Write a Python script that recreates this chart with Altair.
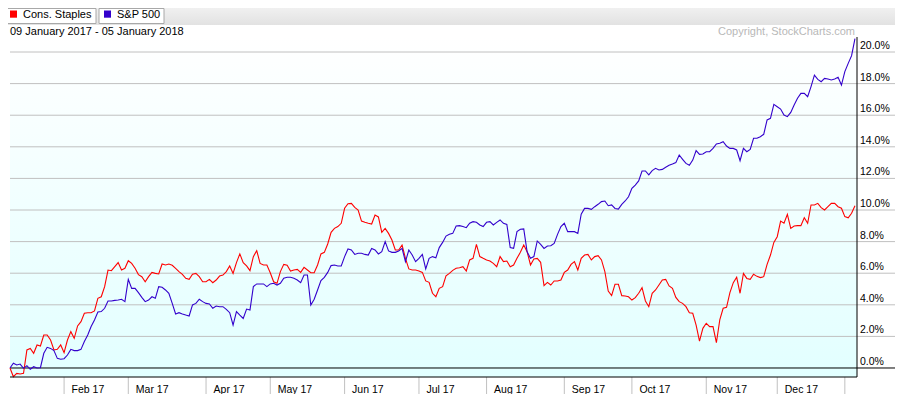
import altair as alt
import pandas as pd

# ---------------- data ----------------
series_names = ["Cons. Staples", "S&P 500"]
series_colors = ["#ff0000", "#3300cc"]
date_range_text = "09 January 2017 - 05 January 2018"
copyright_text = "Copyright, StockCharts.com"

cons_staples = [
    0.00, -0.55, -0.34, -0.38, -0.34, 1.14, 1.24, 0.93, 1.46, 1.39, 2.09, 2.09, 1.77, 1.14, 1.18, 1.46,
    0.97, 1.77, 2.30, 1.88, 2.66, 2.93, 3.46, 3.50, 3.50, 3.61, 4.41, 4.51, 5.15, 6.20, 6.16, 6.41,
    6.67, 6.20, 6.31, 6.79, 6.62, 6.31, 5.91, 5.78, 5.46, 5.78, 6.05, 5.99, 5.95, 6.58, 6.52, 6.58,
    6.50, 6.31, 6.10, 5.93, 5.68, 5.61, 5.93, 5.99, 5.78, 5.46, 5.46, 5.61, 5.40, 5.57, 5.82,
    5.88, 6.10, 6.46, 5.99, 6.67, 7.22, 6.67, 6.46, 6.16, 7.05, 7.43, 6.62, 6.52, 6.52, 6.03, 5.46,
    5.36, 6.10, 6.56, 6.50, 6.14, 6.20, 6.24, 6.05, 6.37, 6.20, 6.03, 6.03, 6.52, 7.22, 7.32, 7.85,
    8.59, 8.84, 8.95, 9.16, 10.11, 10.40, 10.42, 10.17, 10.00, 9.30, 9.22, 9.16, 9.11, 9.68, 9.56, 8.59,
    8.84, 8.52, 8.10, 7.47, 7.47, 7.78, 6.94, 6.27, 6.20, 6.20, 6.14, 6.05, 5.51, 5.42, 4.73,
    4.51, 5.04, 5.15, 5.84, 5.99, 6.18, 6.31, 6.35, 6.41, 6.14, 6.84, 6.94, 7.83, 7.05, 6.94, 6.84,
    6.77, 6.62, 6.41, 7.05, 6.73, 6.77, 6.41, 6.52, 6.94, 7.32, 7.78, 7.36, 6.52, 6.90, 6.94,
    6.69, 5.21, 5.42, 5.25, 5.51, 5.51, 5.57, 6.05, 6.20, 6.56, 6.73, 6.20, 6.94, 7.15, 7.19, 6.84,
    7.05, 7.11, 6.84, 6.10, 4.87, 4.58, 5.30, 5.30, 4.58, 4.56, 4.51, 4.30, 4.45, 4.73, 5.08, 4.24,
    3.88, 4.73, 4.94, 5.25, 5.57, 5.61, 5.19, 5.04, 4.47, 4.20, 4.09, 3.88, 3.50, 3.46, 2.72, 1.70,
    2.51, 2.83, 2.62, 2.62, 1.60, 3.04, 3.78, 3.84, 4.77, 5.40, 5.74, 4.73, 5.99, 5.67, 5.61,
    5.93, 5.80, 5.72, 5.78, 6.56, 7.15, 7.95, 8.31, 9.30, 9.16, 9.73, 8.84, 8.99, 9.01, 9.01, 9.51,
    9.16, 10.32, 10.32, 10.42, 10.15, 10.00, 10.21, 10.42, 10.42, 10.21, 10.11, 9.58, 9.51, 9.79, 10.27,
]

sp500 = [
    0.00, 0.30, 0.19, 0.25, -0.02, 0.15, -0.08, 0.08, 0.00, 0.02, 0.93, 1.31, 1.24, 1.10, 0.61, 0.55,
    0.59, 0.82, 1.18, 1.10, 1.10, 1.18, 1.67, 2.09, 2.62, 3.04, 3.54, 3.57, 3.78, 4.24, 4.24, 4.28,
    4.30, 4.35, 4.20, 5.61, 5.04, 5.04, 4.77, 4.47, 4.20, 4.30, 4.51, 4.41, 5.15, 5.11, 4.94, 4.73,
    4.09, 3.42, 3.50, 3.42, 3.35, 3.29, 3.99, 4.09, 4.35, 4.20, 4.09, 4.05, 3.78, 3.92, 3.88,
    3.88, 3.71, 3.50, 2.72, 3.57, 3.35, 3.14, 3.73, 3.67, 5.15, 5.32, 5.32, 5.32, 5.15, 5.32, 5.36,
    5.25, 5.36, 5.68, 5.74, 5.74, 5.68, 5.57, 5.40, 5.89, 5.89, 3.99, 4.35, 4.94, 5.53, 5.74, 6.05,
    6.48, 6.52, 6.46, 6.46, 7.05, 7.53, 7.47, 7.19, 7.26, 7.26, 7.19, 7.15, 7.57, 7.47, 7.22, 7.36,
    8.00, 7.41, 7.32, 7.32, 7.41, 7.57, 6.73, 7.47, 7.15, 6.73, 6.94, 7.19, 6.27, 6.94, 7.05,
    6.98, 7.62, 7.95, 8.35, 8.46, 8.52, 8.99, 9.01, 8.95, 8.88, 9.16, 9.26, 9.22, 9.05, 8.95, 9.22,
    9.26, 9.05, 9.22, 9.37, 9.16, 9.09, 7.62, 7.57, 8.63, 8.78, 8.80, 7.36, 6.94, 7.05, 8.04,
    7.83, 7.57, 7.72, 7.74, 7.89, 8.46, 8.95, 9.16, 8.63, 8.63, 8.63, 8.52, 9.73, 10.10, 10.10, 10.04,
    10.21, 10.36, 10.53, 10.57, 10.27, 10.32, 10.10, 10.06, 10.36, 10.57, 10.84, 11.37, 11.58, 11.84, 12.47, 12.47,
    12.22, 12.49, 12.64, 12.53, 12.57, 12.70, 12.83, 12.91, 13.00, 13.48, 13.21, 12.95, 12.83, 13.16, 13.76, 13.52,
    13.54, 13.69, 13.69, 13.90, 14.18, 14.22, 14.32, 14.05, 13.90, 13.90, 13.80, 13.12, 13.90, 13.69, 13.84,
    14.54, 14.54, 14.64, 14.79, 15.70, 15.80, 16.69, 16.54, 16.39, 16.01, 15.91, 16.18, 16.65, 17.07, 17.38, 17.38,
    17.17, 17.81, 18.54, 18.27, 18.12, 18.33, 18.29, 18.23, 18.29, 18.40, 17.91, 18.76, 19.28, 19.77, 20.85,
]

# trading-day index of the first session of each month, and its label
month_start_idx = [16, 35, 58, 77, 99, 121, 141, 164, 184, 206, 227, 247]
month_labels = ["Feb 17", "Mar 17", "Apr 17", "May 17", "Jun 17", "Jul 17",
                "Aug 17", "Sep 17", "Oct 17", "Nov 17", "Dec 17", ""]

y_ticks = [0, 2, 4, 6, 8, 10, 12, 14, 16, 18, 20]
y_tick_labels = ["0.0%", "2.0%", "4.0%", "6.0%", "8.0%", "10.0%",
                 "12.0%", "14.0%", "16.0%", "18.0%", "20.0%"]

# ---------------- layout ----------------
W, H = 847, 340
FONT = "Liberation Sans"
xs = alt.Scale(domain=[0, 250.6], nice=False, zero=False)
ys = alt.Scale(domain=[-0.57, 20.95], nice=False, zero=False)

n = len(cons_staples)
df = pd.DataFrame({
    "idx": list(range(n)) + list(range(len(sp500))),
    "value": cons_staples + sp500,
    "series": [series_names[0]] * n + [series_names[1]] * len(sp500),
})
ydf = pd.DataFrame({"v": y_ticks, "label": y_tick_labels})
mdf = pd.DataFrame({"idx": month_start_idx, "label": month_labels})
one = pd.DataFrame({"k": [0]})

def single(text):
    return alt.Chart(pd.DataFrame({"t": [text]}))

bg = alt.Chart(one).mark_rect(
    fill=alt.Gradient(
        gradient="linear",
        stops=[alt.GradientStop(color="#ffffff", offset=0),
               alt.GradientStop(color="#e2ffff", offset=1)],
        x1=0, x2=0, y1=0, y2=1,
    )
).encode(x=alt.value(0), x2=alt.value(W), y=alt.value(0), y2=alt.value(H))

grid = alt.Chart(ydf).mark_rule(strokeWidth=1).encode(
    y=alt.Y("v:Q", scale=ys, axis=None),
    x=alt.value(0), x2=alt.value(W + 39),
    color=alt.condition("datum.v == 0", alt.value("#000000"), alt.value("#c0c0c0")),
)

ylabels = alt.Chart(ydf).mark_text(
    align="left", baseline="alphabetic", dx=3, dy=-3, fontSize=10.5, font=FONT, color="#000000"
).encode(y=alt.Y("v:Q", scale=ys, axis=None), x=alt.value(W), text="label:N")

seps = alt.Chart(mdf).mark_rule(color="#c0c0c0", strokeWidth=1).encode(
    x=alt.X("idx:Q", scale=xs, axis=None), y=alt.value(H), y2=alt.value(H + 25)
)

mlabels = alt.Chart(mdf).mark_text(
    align="left", baseline="alphabetic", dx=7.5, fontSize=10.5, font=FONT, color="#000000"
).encode(x=alt.X("idx:Q", scale=xs, axis=None), y=alt.value(H + 16), text="label:N")

lines = alt.Chart(df).mark_line(strokeWidth=1.1).encode(
    x=alt.X("idx:Q", scale=xs, axis=None),
    y=alt.Y("value:Q", scale=ys, axis=None),
    color=alt.Color("series:N", scale=alt.Scale(domain=series_names, range=series_colors), legend=None),
    order="idx:Q",
)

bottom_line = alt.Chart(one).mark_rule(color="#000000", strokeWidth=1).encode(
    x=alt.value(0), x2=alt.value(W), y=alt.value(H)
)
right_line = alt.Chart(one).mark_rule(color="#000000", strokeWidth=1).encode(
    x=alt.value(W), y=alt.value(0), y2=alt.value(H)
)

header = alt.Chart(one).mark_rect(
    fill=alt.Gradient(
        gradient="linear",
        stops=[alt.GradientStop(color="#f0f0f0", offset=0),
               alt.GradientStop(color="#e2e2e2", offset=1)],
        x1=0, x2=0, y1=0, y2=1,
    )
).encode(x=alt.value(-2), x2=alt.value(W + 40), y=alt.value(-29), y2=alt.value(-12))

box1 = alt.Chart(one).mark_rect(fill="#ffffff", stroke="#a8a8a8", strokeWidth=1).encode(
    x=alt.value(-5), x2=alt.value(86), y=alt.value(-28.5), y2=alt.value(-13.5)
)
box2 = alt.Chart(one).mark_rect(fill="#ffffff", stroke="#a8a8a8", strokeWidth=1).encode(
    x=alt.value(89), x2=alt.value(154), y=alt.value(-28.5), y2=alt.value(-13.5)
)
sq1 = alt.Chart(one).mark_rect(fill=series_colors[0]).encode(
    x=alt.value(0), x2=alt.value(7), y=alt.value(-26.5), y2=alt.value(-19.3)
)
sq2 = alt.Chart(one).mark_rect(fill=series_colors[1]).encode(
    x=alt.value(94), x2=alt.value(101), y=alt.value(-26.5), y2=alt.value(-19.3)
)
leg1 = single(series_names[0]).mark_text(
    align="left", baseline="alphabetic", fontSize=11, font=FONT, color="#000000"
).encode(x=alt.value(13), y=alt.value(-18.8), text="t:N")
leg2 = single(series_names[1]).mark_text(
    align="left", baseline="alphabetic", fontSize=11, font=FONT, color="#000000"
).encode(x=alt.value(107), y=alt.value(-18.8), text="t:N")

date_txt = single(date_range_text).mark_text(
    align="left", baseline="alphabetic", fontSize=11, font=FONT, color="#000000"
).encode(x=alt.value(0), y=alt.value(-2.3), text="t:N")
copy_txt = single(copyright_text).mark_text(
    align="right", baseline="alphabetic", fontSize=11, font=FONT, color="#b8b8b8"
).encode(x=alt.value(845), y=alt.value(-2.3), text="t:N")

chart = alt.layer(
    bg, grid, seps, lines, bottom_line, right_line, ylabels, mlabels,
    header, box1, box2, sq1, sq2, leg1, leg2, date_txt, copy_txt,
).properties(
    width=W, height=H,
    autosize=alt.AutoSizeParams(type="none"),
    padding={"left": 2, "top": 29, "right": 38, "bottom": 17},
    background="#ffffff",
).configure_view(stroke=None)

chart.save("out.html", embed_options={"renderer": "svg", "actions": False})
